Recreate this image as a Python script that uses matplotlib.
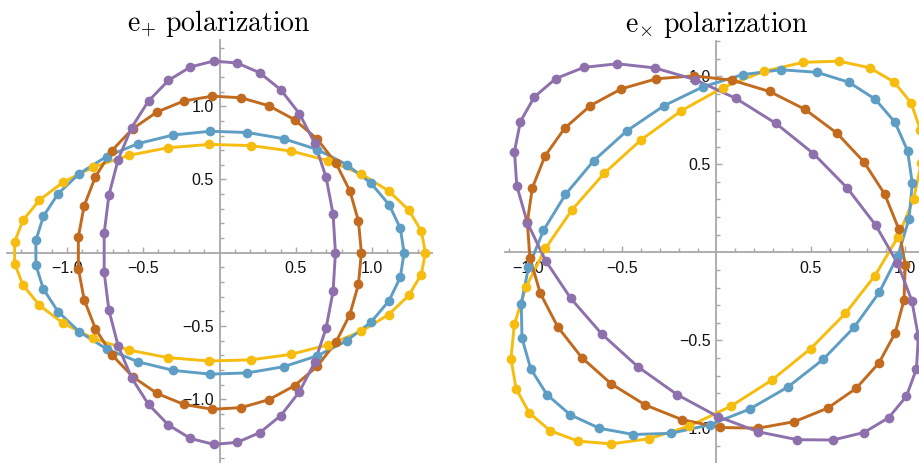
import matplotlib.pyplot as plt
import numpy as np
from matplotlib.ticker import FixedLocator

plt.rcParams['mathtext.fontset'] = 'cm'
plt.rcParams['font.family'] = ['Liberation Sans', 'DejaVu Sans']

# ring colours, in drawing order
ring_colors = ['#F6BC0E', '#5E9EC4', '#C26B1F', '#8E70AD']

# e+ panel: half-widths of each deformed ring along x and y
plus_half_x = [1.35, 1.21, 0.93, 0.76]
plus_half_y = [0.74, 0.83, 1.07, 1.31]

# ex panel: half-lengths along the y=x and y=-x diagonals
cross_half_diag = [1.35, 1.21, 0.93, 0.76]
cross_half_anti = [0.74, 0.83, 1.07, 1.31]

# number of test particles on each ring
n_particles = 31

theta = np.linspace(0, 2 * np.pi, n_particles + 1)
c, s = np.cos(theta), np.sin(theta)

plus_rings = [(a * c, b * s) for a, b in zip(plus_half_x, plus_half_y)]
cross_rings = []
for a, b in zip(cross_half_diag, cross_half_anti):
    u = a * (c + s) / np.sqrt(2)
    v = b * (s - c) / np.sqrt(2)
    cross_rings.append(((u - v) / np.sqrt(2), (u + v) / np.sqrt(2)))

W, H = 919, 463
fig = plt.figure(figsize=(W / 100, H / 100), dpi=100)


def add_panel(x0, x1, y0, y1, xlim, ylim):
    # pixel box -> figure fraction
    return fig.add_axes([x0 / W, 1 - y1 / H, (x1 - x0) / W, (y1 - y0) / H],
                        xlim=xlim, ylim=ylim)


def style_axes(ax, xmax, ymax):
    for side in ['top', 'right']:
        ax.spines[side].set_visible(False)
    for side in ['left', 'bottom']:
        ax.spines[side].set_position('zero')
        ax.spines[side].set_color('#A8A8A8')
        ax.spines[side].set_linewidth(1.3)
    ax.patch.set_visible(False)
    major = [-1.0, -0.5, 0.5, 1.0]
    labels = ['\u22121.0', '\u22120.5', '0.5', '1.0']
    ax.xaxis.set_major_locator(FixedLocator(major))
    ax.yaxis.set_major_locator(FixedLocator(major))
    ax.set_xticklabels(labels)
    ax.set_yticklabels(labels)
    xm = [v / 10 for v in range(-int(xmax * 10), int(xmax * 10) + 1) if v % 5 != 0]
    ym = [v / 10 for v in range(-int(ymax * 10), int(ymax * 10) + 1) if v % 5 != 0]
    ax.xaxis.set_minor_locator(FixedLocator(xm))
    ax.yaxis.set_minor_locator(FixedLocator(ym))
    ax.tick_params(which='both', direction='in', color='#A8A8A8', width=1.0,
                   labelsize=11.5, labelcolor='#111111')
    ax.tick_params(which='major', length=4.3)
    ax.tick_params(which='minor', length=3.0)
    ax.tick_params(axis='x', which='major', pad=6)
    ax.tick_params(axis='y', which='major', pad=4)


def draw_rings(ax, rings):
    for (x, y), col in zip(rings, ring_colors):
        ax.plot(x, y, color=col, lw=2.1, zorder=3, clip_on=False)
    for (x, y), col in zip(rings, ring_colors):
        ax.plot(x[:-1], y[:-1], 'o', color=col, ms=7.0, mew=0, zorder=4, clip_on=False)


ax1 = add_panel(6.7, 432.3, 40.0, 465.4, (-1.395, 1.395), (-1.452, 1.452))
style_axes(ax1, 1.395, 1.452)
draw_rings(ax1, plus_rings)

ax2 = add_panel(505.0, 927.9, 40.7, 463.9, (-1.12, 1.12), (-1.202, 1.202))
style_axes(ax2, 1.12, 1.202)
draw_rings(ax2, cross_rings)

fig.text(219 / W, 1 - 32 / H, r'$\mathrm{e}_{+}\ \mathrm{polarization}$',
         ha='center', va='baseline', fontsize=20)
fig.text(717 / W, 1 - 32 / H, r'$\mathrm{e}_{\times}\ \mathrm{polarization}$',
         ha='center', va='baseline', fontsize=20)

fig.savefig('out.png', dpi=100, facecolor='white')
